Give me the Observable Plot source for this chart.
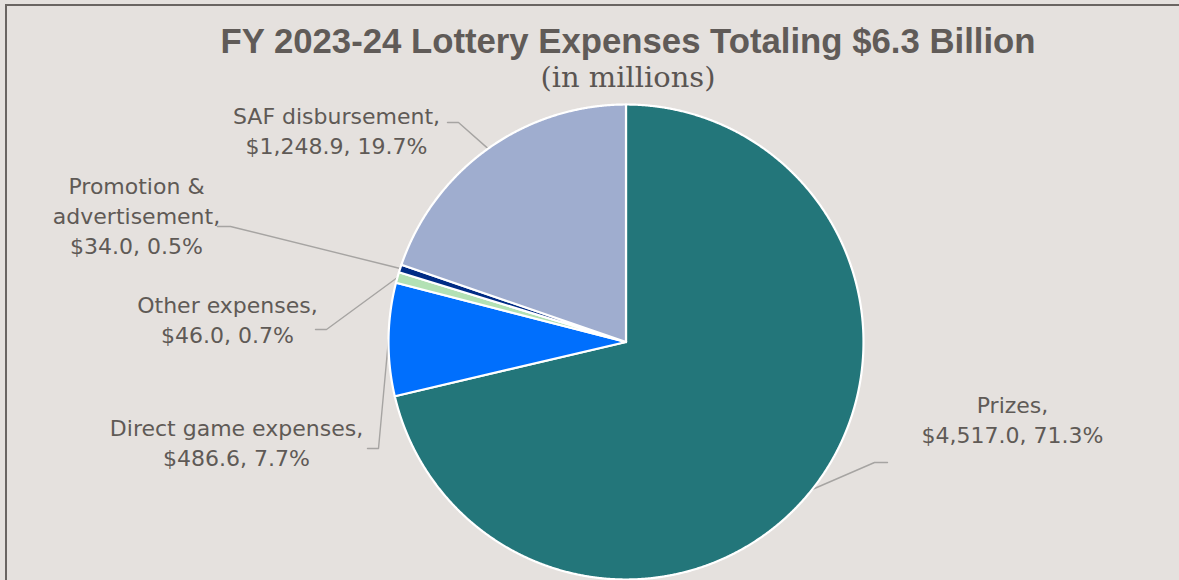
<!DOCTYPE html>
<html>
<head>
<meta charset="utf-8">
<script src="https://cdn.jsdelivr.net/npm/d3@7"></script>
<script src="https://cdn.jsdelivr.net/npm/@observablehq/plot@0.6"></script>
<style>
  html, body { margin: 0; padding: 0; background: #e5e1de; }
  #page { position: relative; width: 1179px; height: 580px; overflow: hidden; background: #e5e1de; }
  #frame { position: absolute; left: 5px; top: 4px; width: 3000px; height: 3000px;
           border-left: 2px solid #6a6562; border-top: 2px solid #6a6562; box-sizing: border-box; }
  #header { position: relative; height: 96px; }
  #title { position: absolute; left: 628px; top: 23px; white-space: nowrap;
           font-family: "Liberation Sans", Arial, sans-serif; font-weight: bold; font-size: 35px; line-height: 35px;
           color: #605b58; transform-origin: 0 0; }
  #subtitle { position: absolute; left: 628px; top: 64px; white-space: nowrap;
           font-family: "DejaVu Serif", "Liberation Serif", serif; font-size: 28px; line-height: 28px;
           color: #5a5552; transform-origin: 0 0; }
  #chart { position: relative; }
  #chart svg { display: block; background: transparent; overflow: visible; }
</style>
</head>
<body>
<div id="page">
  <div id="frame"></div>
  <div id="header">
    <div id="title">FY 2023-24 Lottery Expenses Totaling $6.3 Billion</div>
    <div id="subtitle">(in millions)</div>
  </div>
  <div id="chart"></div>
</div>
<script>
// ---- data ----
const categories = ["Prizes", "Direct game expenses", "Other expenses", "Promotion & advertisement", "SAF disbursement"];
const categoryLabels = ["Prizes,", "Direct game expenses,", "Other expenses,", "Promotion &\nadvertisement,", "SAF disbursement,"];
const values = [4517.0, 486.6, 46.0, 34.0, 1248.9];
const percents = [71.3, 7.7, 0.7, 0.5, 19.7];
const colors = ["#23767a", "#006ffd", "#b3e1b4", "#002c85", "#9fadcf"];

// ---- layout (pixels in SVG space) ----
const W = 1179, H = 484;
const cx = 625.5, cy = 245.5, R = 237.5;
// label anchor (center x, last baseline y), leader elbow and end
const labelLayout = [
  { lx: 1012, ly: 346, ex: 874, ey: 366, tx: 887, ty: 366 },
  { lx: 236,  ly: 369, ex: 378, ey: 352, tx: 367, ty: 352 },
  { lx: 227,  ly: 246, ex: 326, ey: 233, tx: 315, ty: 233 },
  { lx: 136,  ly: 157, ex: 230, ey: 130, tx: 217, ty: 130 },
  { lx: 336,  ly: 57,  ex: 458, ey: 26,  tx: 447, ty: 26 }
];

// ---- geometry from data ----
const arcs = d3.pie().sort(null).value(d => d)(values);
const px = a => cx + R * Math.sin(a);
const py = a => cy - R * Math.cos(a);

const slicePts = [];
arcs.forEach((a, i) => {
  slicePts.push({ k: categories[i], x: cx, y: cy, c: colors[i] });
  const n = Math.max(2, Math.ceil((a.endAngle - a.startAngle) / 0.004));
  for (let j = 0; j <= n; j++) {
    const t = a.startAngle + (a.endAngle - a.startAngle) * j / n;
    slicePts.push({ k: categories[i], x: px(t), y: py(t), c: colors[i] });
  }
  slicePts.push({ k: categories[i], x: cx, y: cy, c: colors[i] });
});

const leaderPts = [];
arcs.forEach((a, i) => {
  const m = (a.startAngle + a.endAngle) / 2;
  const L = labelLayout[i];
  leaderPts.push({ k: categories[i], x: px(m), y: py(m) });
  leaderPts.push({ k: categories[i], x: L.ex, y: L.ey });
  leaderPts.push({ k: categories[i], x: L.tx, y: L.ty });
});

const fmt = d3.format(",.1f");
const labels = categories.map((c, i) => ({
  k: c,
  x: labelLayout[i].lx,
  y: labelLayout[i].ly,
  text: `${categoryLabels[i]}\n$${fmt(values[i])}, ${percents[i].toFixed(1)}%`
}));

const chart = Plot.plot({
  width: W, height: H,
  margin: 0,
  x: { domain: [0, W], range: [0, W], axis: null },
  y: { domain: [0, H], range: [0, H], axis: null },
  color: { type: "identity" },
  style: { background: "transparent", overflow: "visible" },
  marks: [
    Plot.line(leaderPts, { x: "x", y: "y", z: "k", stroke: "#a6a4a2", strokeWidth: 1.4 }),
    Plot.line(slicePts, { x: "x", y: "y", z: "k", fill: "c", stroke: "#ffffff", strokeWidth: 2.2, strokeLinejoin: "round" }),
    Plot.text(labels, {
      x: "x", y: "y", text: "text",
      textAnchor: "middle", lineAnchor: "bottom", lineHeight: 1.35,
      fontSize: 22, fontFamily: "DejaVu Sans, sans-serif", fill: "#5f5a56"
    })
  ]
});
document.getElementById("chart").appendChild(chart);

// fit title/subtitle widths (condensed look) and center them
function fit(id, target) {
  const el = document.getElementById(id);
  const w = el.getBoundingClientRect().width;
  const s = target / w;
  el.style.transform = `translateX(${-target / 2}px) scaleX(${s})`;
}
fit("title", 815);
fit("subtitle", 175);
</script>
</body>
</html>
